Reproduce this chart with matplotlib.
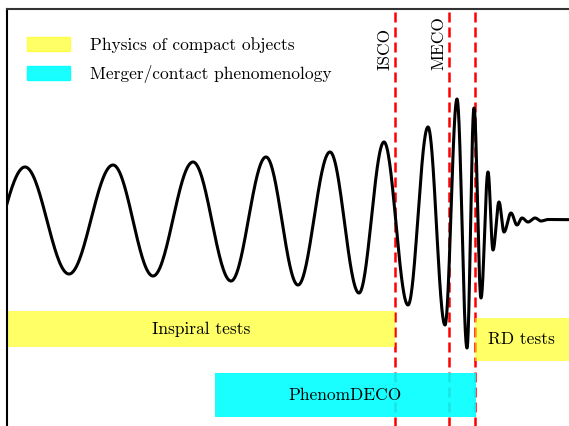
import matplotlib
matplotlib.use("Agg")
import matplotlib.pyplot as plt
import numpy as np
from matplotlib.patches import Patch

plt.rcParams['font.family'] = 'serif'
plt.rcParams['font.serif'] = ['cmr10']
plt.rcParams['mathtext.fontset'] = 'cm'
plt.rcParams['axes.unicode_minus'] = False

# turning points of the waveform (time, strain), arbitrary units
t_ext = [-27, 18, 62, 106, 146, 186, 224, 259, 291, 323, 352, 377, 401, 421,
         438, 450, 460, 467, 474, 481, 486, 492, 497, 504, 510, 515, 521, 528,
         534, 541, 593]
h_ext = [-53, 53, -54, 55, -56, 58, -61, 63, -65, 68, -73, 78, -85, 93,
         -105, 121, -128, 112, -78, 48, -30, 18, -12, 7, -5, 2, -2, 2,
         -1, 0.5, 0]

# ISCO, MECO and peak times
t_lines = [388, 442, 468]
line_labels = ['ISCO', 'MECO', '']

# test ranges: (label, start, end, bottom, top, color, alpha)
regions = [
    ('Inspiral tests', 1, 388, -127, -91, 'yellow', 0.6),
    ('RD tests', 468, 600, -141, -98, 'yellow', 0.6),
    ('PhenomDECO', 208, 469, -197, -153, 'cyan', 0.9),
]
rd_label_t = 514

# half-cosine between successive turning points
t_all, h_all = [], []
for i in range(len(t_ext) - 1):
    t0, t1 = t_ext[i], t_ext[i + 1]
    a0, a1 = h_ext[i], h_ext[i + 1]
    s = np.linspace(0, 1, 60)
    t_all.append(t0 + (t1 - t0) * s)
    h_all.append((a0 + a1) / 2 + (a0 - a1) / 2 * np.cos(np.pi * s))
t_all = np.concatenate(t_all)
h_all = np.concatenate(h_all)

fs = 12.5

fig = plt.figure(figsize=(5.69, 4.26), dpi=100)
ax = fig.add_axes([7 / 569, -14 / 426, 593 / 569, 431 / 426])
ax.set_xlim(0, 593)
ax.set_ylim(-220, 211)

ax.plot(t_all, h_all, color='black', lw=2.2, zorder=3)

for t in t_lines:
    ax.axvline(t, color='red', ls='--', lw=1.8, dashes=(4, 2), zorder=1)
for t, lab in zip(t_lines, line_labels):
    if lab:
        ax.text(t - 3, 150, lab, rotation=90, ha='right', va='bottom', fontsize=fs)

for lab, t0, t1, y0, y1, col, a in regions:
    ax.barh((y0 + y1) / 2, t1 - t0, left=t0, height=y1 - y0, color=col,
            alpha=a, zorder=2)
    xc = rd_label_t if lab == 'RD tests' else (t0 + t1) / 2
    ax.text(xc, (y0 + y1) / 2, lab, ha='center', va='center', fontsize=fs, zorder=4)

handles = [Patch(color='yellow', alpha=0.6, label='Physics of compact objects'),
           Patch(color='cyan', alpha=0.9, label='Merger/contact phenomenology')]
ax.legend(handles=handles, loc='upper left', frameon=False, fontsize=fs,
          handlelength=2.47, handleheight=0.9, labelspacing=0.7,
          bbox_to_anchor=(0.008, 0.9715), handletextpad=1.15)

ax.set_xticks([])
ax.set_yticks([])
ax.spines['top'].set_color('#333333')
ax.spines['top'].set_linewidth(1.5)
ax.spines['left'].set_linewidth(1.5)

fig.savefig('out.png', dpi=100)
